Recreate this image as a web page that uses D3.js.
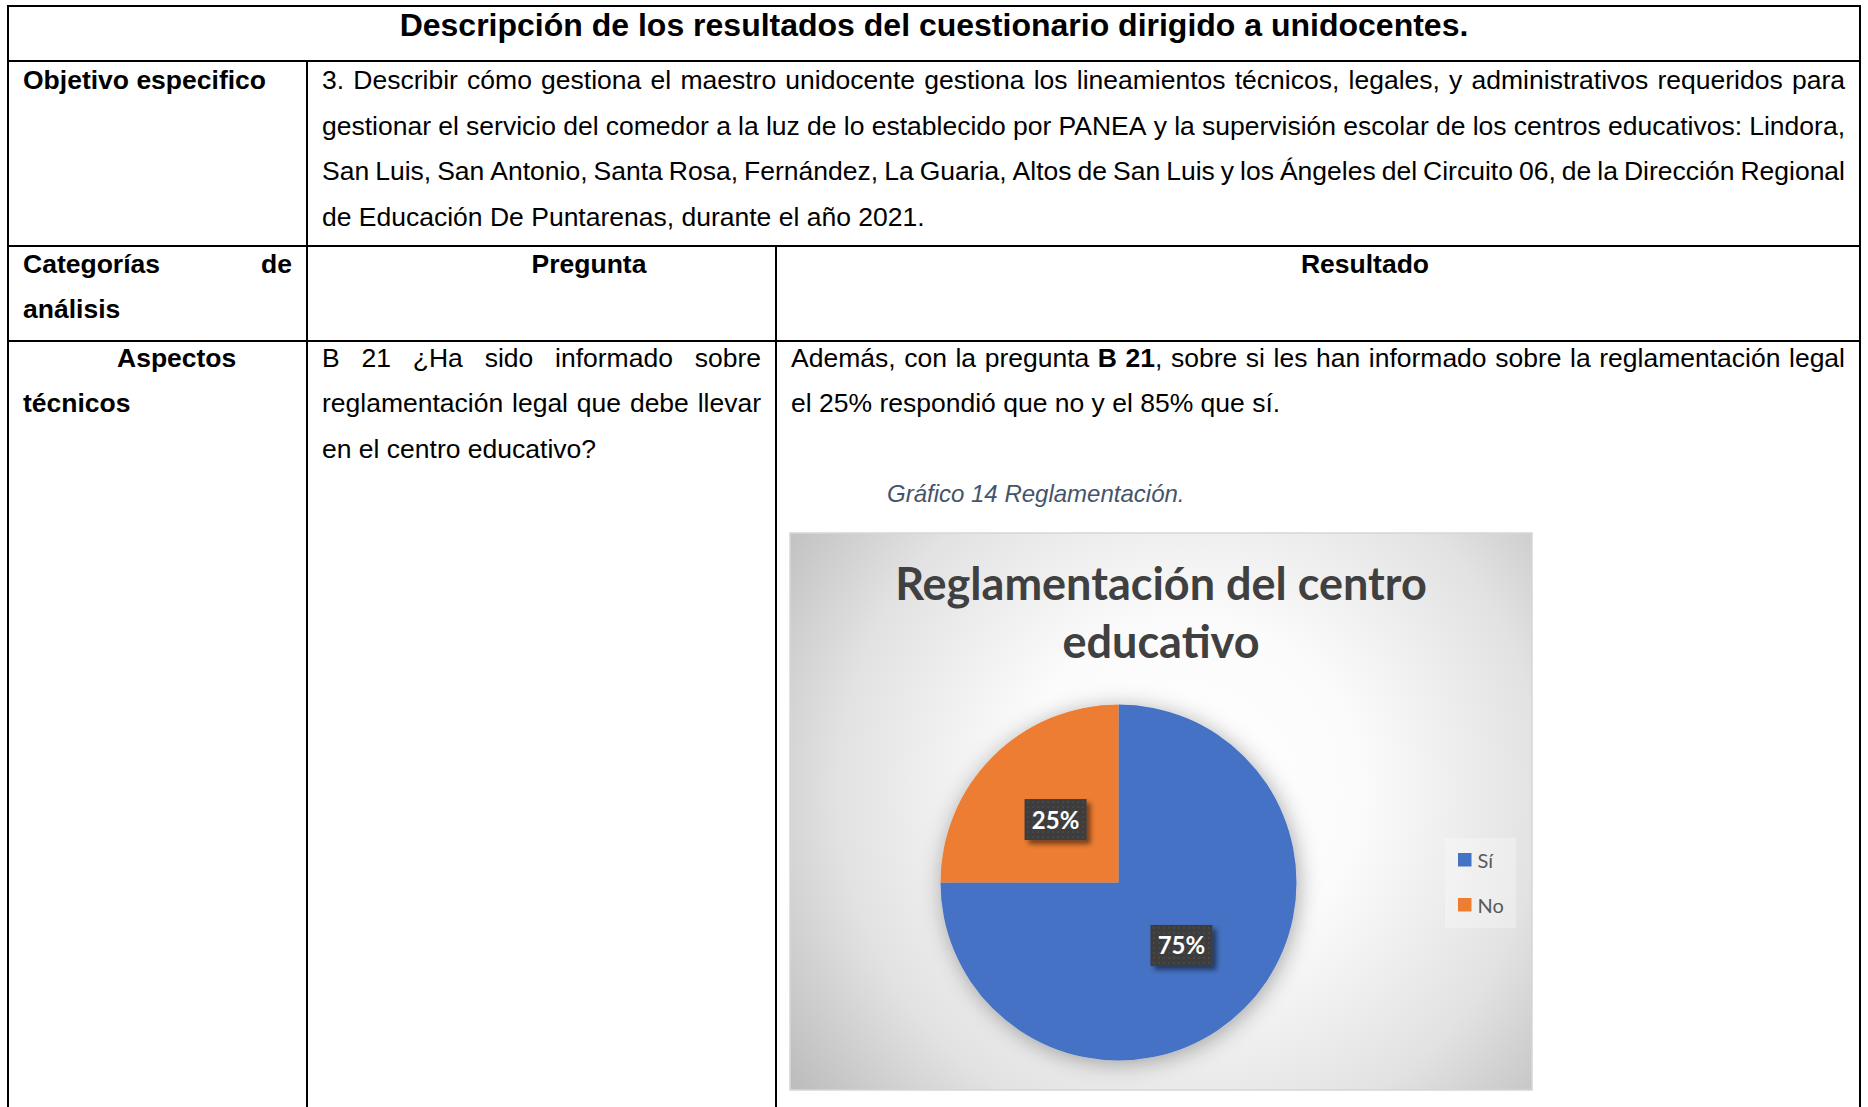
<!DOCTYPE html>
<html>
<head>
<meta charset="utf-8">
<script src="https://cdn.jsdelivr.net/npm/d3@7"></script>
<style>
  body { margin: 0; background: #fff; }
  svg { display: block; }
</style>
</head>
<body>
<div id="chart"></div>
<script>
var svgWidth = 1868;
var svgHeight = 1107;

// pie data
var categories = ["Sí", "No"];
var values = [75, 25];
var colors = ["#4472C4", "#ED7D31"];
var chartTitle = ["Reglamentación del centro", "educativo"];
var caption = "Gráfico 14 Reglamentación.";

// table texts (**...** = bold)
var tableTitle = "Descripción de los resultados del cuestionario dirigido a unidocentes.";
var objetivoLabel = "Objetivo especifico";
var objetivoLines = [
  "3. Describir cómo gestiona el maestro unidocente gestiona los lineamientos técnicos, legales, y administrativos requeridos para",
  "gestionar el servicio del comedor a la luz de lo establecido por PANEA y la supervisión escolar de los centros educativos: Lindora,",
  "San Luis, San Antonio, Santa Rosa, Fernández, La Guaria, Altos de San Luis y los Ángeles del Circuito 06, de la Dirección Regional",
  "de Educación De Puntarenas, durante el año 2021."
];
var categoriaLines = ["Categorías de", "análisis"];
var headers = ["Pregunta", "Resultado"];
var aspectoLines = ["Aspectos", "técnicos"];
var preguntaLines = [
  "B 21 ¿Ha sido informado sobre",
  "reglamentación legal que debe llevar",
  "en el centro educativo?"
];
var resultadoLines = [
  "Además, con la pregunta **B 21**, sobre si les han informado sobre la reglamentación legal",
  "el 25% respondió que no y el 85% que sí."
];

// table geometry
var rowY = [6, 61, 246, 341];
var colX = [8, 307, 776, 1860];
var padX = 15;
var lineH = 45.7;
var bodySize = 26.5;
var bodyFont = "'Liberation Sans', Arial, sans-serif";

var svg = d3.select("#chart")
  .append("svg")
  .attr("width", svgWidth)
  .attr("height", svgHeight);

svg.append("rect")
  .attr("width", svgWidth)
  .attr("height", svgHeight)
  .attr("fill", "#fff");

var defs = svg.append("defs");

// hidden text used to measure words (removed once the table is drawn)
var meter = svg.append("text")
  .attr("x", 0).attr("y", 0)
  .attr("visibility", "hidden")
  .attr("font-family", bodyFont);

function measure(text, bold, size) {
  meter.attr("font-size", size)
    .attr("font-weight", bold ? "bold" : "normal")
    .text(text);
  return meter.node().getComputedTextLength();
}

function parseWords(line, bold) {
  var words = [];
  line.split(" ").forEach(function(w) {
    var runs = [];
    w.split("**").forEach(function(p, i) {
      if (i > 0) bold = !bold;
      if (p.length) runs.push({ text: p, bold: bold });
    });
    words.push(runs);
  });
  return words;
}

// draws one line of words: justified between x0 and x1, left at x0, or centred on cx
function drawLine(g, line, opts) {
  var size = opts.size || bodySize;
  var words = parseWords(line, !!opts.bold);
  var widths = words.map(function(runs) {
    return d3.sum(runs, function(r) { return measure(r.text, r.bold, size); });
  });
  var space = measure("a a", opts.bold, size) - measure("aa", opts.bold, size);
  var total = d3.sum(widths);
  var gap = space;
  var x = opts.x0;
  if (opts.justify && words.length > 1) {
    gap = (opts.x1 - opts.x0 - total) / (words.length - 1);
  } else if (opts.cx !== undefined) {
    x = opts.cx - (total + space * (words.length - 1)) / 2;
  }
  words.forEach(function(runs, i) {
    runs.forEach(function(r) {
      g.append("text")
        .attr("x", x)
        .attr("y", opts.y)
        .attr("font-family", bodyFont)
        .attr("font-size", size)
        .attr("font-weight", r.bold ? "bold" : "normal")
        .attr("fill", "#000")
        .text(r.text);
      x += measure(r.text, r.bold, size);
    });
    x += gap;
  });
}

function drawParagraph(g, lines, x0, x1, y0, bold) {
  lines.forEach(function(line, i) {
    drawLine(g, line, {
      x0: x0, x1: x1, y: y0 + i * lineH,
      justify: i < lines.length - 1, bold: bold
    });
  });
}

// ---- table borders
var grid = svg.append("g")
  .attr("stroke", "#000")
  .attr("stroke-width", 2);

rowY.forEach(function(y) {
  grid.append("line").attr("x1", colX[0] - 1).attr("x2", colX[3] + 1)
    .attr("y1", y).attr("y2", y);
});
grid.append("line").attr("x1", colX[0]).attr("x2", colX[0])
  .attr("y1", rowY[0]).attr("y2", svgHeight);
grid.append("line").attr("x1", colX[3]).attr("x2", colX[3])
  .attr("y1", rowY[0]).attr("y2", svgHeight);
grid.append("line").attr("x1", colX[1]).attr("x2", colX[1])
  .attr("y1", rowY[1]).attr("y2", svgHeight);
grid.append("line").attr("x1", colX[2]).attr("x2", colX[2])
  .attr("y1", rowY[2]).attr("y2", svgHeight);

// ---- table texts
var textG = svg.append("g");

drawLine(textG, tableTitle, {
  cx: (colX[0] + colX[3]) / 2, y: 35.5, bold: true, size: 32
});

drawLine(textG, objetivoLabel, { x0: colX[0] + padX, y: 89, bold: true });
drawParagraph(textG, objetivoLines, colX[1] + padX, colX[3] - padX, 89, false);

drawParagraph(textG, categoriaLines, colX[0] + padX, colX[1] - padX, 272.5, true);
drawLine(textG, headers[0], { cx: 589, y: 272.5, bold: true });
drawLine(textG, headers[1], { cx: 1365, y: 272.5, bold: true });

drawLine(textG, aspectoLines[0], { x0: colX[0] + padX + 94, y: 366.5, bold: true });
drawLine(textG, aspectoLines[1], { x0: colX[0] + padX, y: 366.5 + lineH, bold: true });
drawParagraph(textG, preguntaLines, colX[1] + padX, colX[2] - padX, 366.5, false);
drawParagraph(textG, resultadoLines, colX[2] + padX, colX[3] - padX, 366.5, false);

meter.remove();

textG.append("text")
  .attr("x", 887)
  .attr("y", 501.5)
  .attr("font-family", bodyFont)
  .attr("font-size", 24)
  .attr("font-style", "italic")
  .attr("fill", "#44546A")
  .text(caption);

// ---- chart area
var box = { x: 790, y: 533, w: 742, h: 557 };

var grad = defs.append("radialGradient")
  .attr("id", "bg")
  .attr("gradientUnits", "userSpaceOnUse")
  .attr("cx", 1190).attr("cy", 790).attr("r", 490);
grad.append("stop").attr("offset", 0).attr("stop-color", "#ffffff");
grad.append("stop").attr("offset", 0.35).attr("stop-color", "#fbfbfb");
grad.append("stop").attr("offset", 0.72).attr("stop-color", "#e2e2e2");
grad.append("stop").attr("offset", 1).attr("stop-color", "#bebebe");

var pieShadow = defs.append("filter").attr("id", "pieShadow")
  .attr("x", "-30%").attr("y", "-30%").attr("width", "160%").attr("height", "160%");
pieShadow.append("feGaussianBlur").attr("in", "SourceAlpha").attr("stdDeviation", 11).attr("result", "b");
pieShadow.append("feOffset").attr("dx", 2).attr("dy", 3).attr("result", "o");
pieShadow.append("feFlood").attr("flood-color", "#000").attr("flood-opacity", 0.33);
pieShadow.append("feComposite").attr("in2", "o").attr("operator", "in").attr("result", "s");
var m1 = pieShadow.append("feMerge");
m1.append("feMergeNode").attr("in", "s");
m1.append("feMergeNode").attr("in", "SourceGraphic");

var boxShadow = defs.append("filter").attr("id", "boxShadow")
  .attr("x", "-30%").attr("y", "-30%").attr("width", "170%").attr("height", "170%");
boxShadow.append("feGaussianBlur").attr("in", "SourceAlpha").attr("stdDeviation", 2.5).attr("result", "b");
boxShadow.append("feOffset").attr("dx", 4).attr("dy", 4).attr("result", "o");
boxShadow.append("feFlood").attr("flood-color", "#000").attr("flood-opacity", 0.5);
boxShadow.append("feComposite").attr("in2", "o").attr("operator", "in").attr("result", "s");
var m2 = boxShadow.append("feMerge");
m2.append("feMergeNode").attr("in", "s");
m2.append("feMergeNode").attr("in", "SourceGraphic");

var dots = defs.append("pattern").attr("id", "dots")
  .attr("patternUnits", "userSpaceOnUse").attr("width", 5).attr("height", 5);
dots.append("rect").attr("width", 5).attr("height", 5).attr("fill", "#3d3d3d");
dots.append("rect").attr("x", 2).attr("y", 2).attr("width", 1).attr("height", 1).attr("fill", "#606060");

var chartGroup = svg.append("g");

chartGroup.append("rect")
  .attr("x", box.x).attr("y", box.y)
  .attr("width", box.w).attr("height", box.h)
  .attr("fill", "url(#bg)")
  .attr("stroke", "#d6d6d6")
  .attr("stroke-width", 1.5);

chartGroup.selectAll(".ctitle")
  .data(chartTitle)
  .enter()
  .append("text")
  .attr("class", "ctitle")
  .attr("x", box.x + box.w / 2)
  .attr("y", function(d, i) { return 600 + i * 58; })
  .attr("text-anchor", "middle")
  .attr("font-family", "Lato, 'Open Sans', sans-serif")
  .attr("font-weight", "bold")
  .attr("font-size", 45)
  .attr("fill", "#404040")
  .text(function(d) { return d; });

var pieData = categories.map(function(c, i) {
  return { name: c, value: values[i], color: colors[i] };
});

var radius = 178;
var pieCenter = [1118.5, 882.5];

var pie = d3.pie()
  .sort(null)
  .value(function(d) { return d.value; });

var arc = d3.arc().innerRadius(0).outerRadius(radius);

var pieGroup = chartGroup.append("g")
  .attr("transform", "translate(" + pieCenter[0] + "," + pieCenter[1] + ")");

pieGroup.append("g")
  .attr("filter", "url(#pieShadow)")
  .selectAll("path")
  .data(pie(pieData))
  .enter()
  .append("path")
  .attr("d", arc)
  .attr("fill", function(d) { return d.data.color; });

var labels = pieGroup.selectAll(".lbl")
  .data(pie(pieData))
  .enter()
  .append("g")
  .attr("class", "lbl")
  .attr("transform", function(d) { return "translate(" + arc.centroid(d) + ")"; });

labels.append("rect")
  .attr("x", -31).attr("y", -20.5)
  .attr("width", 62).attr("height", 41)
  .attr("fill", "url(#dots)")
  .attr("filter", "url(#boxShadow)");

labels.append("text")
  .attr("text-anchor", "middle")
  .attr("y", 9)
  .attr("font-family", "Lato, 'Open Sans', sans-serif")
  .attr("font-weight", "bold")
  .attr("font-size", 24)
  .attr("fill", "#fff")
  .text(function(d) { return d.value + "%"; });

// legend
var legend = chartGroup.append("g");
legend.append("rect")
  .attr("x", 1445).attr("y", 838)
  .attr("width", 71).attr("height", 90)
  .attr("fill", "#fff")
  .attr("fill-opacity", 0.3);

var legendItems = legend.selectAll(".item")
  .data(pieData)
  .enter()
  .append("g")
  .attr("class", "item")
  .attr("transform", function(d, i) { return "translate(1458," + (853 + i * 45) + ")"; });

legendItems.append("rect")
  .attr("width", 13.5).attr("height", 13.5)
  .attr("fill", function(d) { return d.color; });

legendItems.append("text")
  .attr("x", 19.5)
  .attr("y", 15)
  .attr("font-family", "Lato, 'Open Sans', sans-serif")
  .attr("font-size", 20)
  .attr("fill", "#595959")
  .text(function(d) { return d.name; });
</script>
</body>
</html>
